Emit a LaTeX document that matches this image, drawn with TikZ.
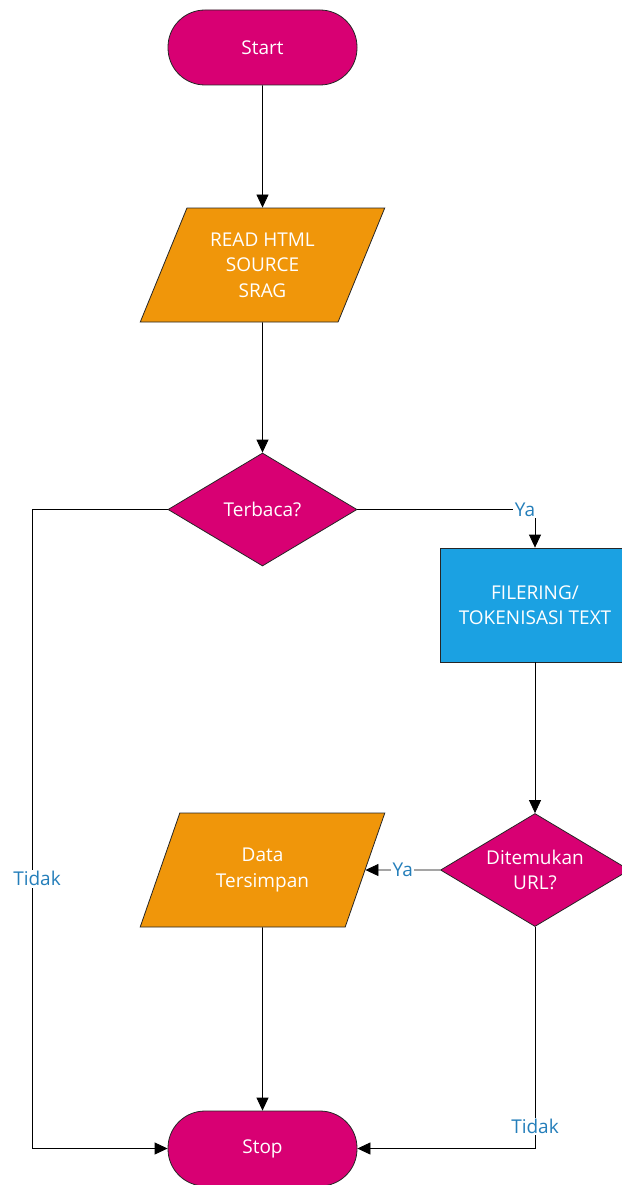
\documentclass[tikz,border=0pt]{standalone}
\usepackage{fontspec}
\setmainfont{Open Sans}
\usetikzlibrary{shapes.geometric,arrows.meta}
\definecolor{termc}{RGB}{216,0,115}
\definecolor{ioc}{RGB}{240,150,10}
\definecolor{procc}{RGB}{27,161,226}
\definecolor{labc}{RGB}{36,126,186}
\tikzset{
  base/.style={draw=black!85, line width=0.8pt, text=white, align=center,
    font=\fontsize{19}{25.5}\selectfont, inner sep=2pt},
  term/.style={base, fill=termc, rectangle, rounded corners=37pt,
    minimum width=189pt, minimum height=75pt},
  io/.style={base, fill=ioc, trapezium, trapezium left angle=64,
    trapezium right angle=116, trapezium stretches=true,
    minimum width=245pt, minimum height=114pt},
  decision/.style={base, fill=termc, diamond, aspect=1.67, inner sep=0pt,
    minimum width=189pt, minimum height=113pt},
  proc/.style={base, fill=procc, rectangle, minimum width=190pt,
    minimum height=114pt},
  conn/.style={draw=black, line width=0.8pt, -{Triangle[length=13pt,width=12pt]}},
  lab/.style={fill=white, text=labc, inner sep=1.5pt,
    font=\fontsize{19}{22}\selectfont}
}
\begin{document}
\begin{tikzpicture}[x=1pt,y=-1pt]
  \useasboundingbox (0,0) rectangle (621,1185);
  \node[term] (start) at (262.5,47.5) {Start};
  \node[io] (read) at (262.5,265) {READ HTML\\SOURCE\\SRAG};
  \node[decision] (baca) at (262.5,509.5) {Terbaca?};
  \node[proc] (token) at (535,605) {FILERING/\\TOKENISASI TEXT};
  \node[decision] (url) at (535,870) {Ditemukan\\URL?};
  \node[io] (simpan) at (262.5,870) {Data\\Tersimpan};
  \node[term] (stop) at (262.5,1148.5) {Stop};
  \coordinate (kiri) at (32,509.5);

  \draw[conn] (start) -- (read);
  \draw[conn] (read) -- (baca);
  \draw[conn] (baca.east) -| (token.north) node[lab, pos=0.472] {Ya};
  \draw[conn] (token) -- (url);
  \draw[conn] (url.west) -- (simpan.east) node[lab, pos=0.5] {Ya};
  \draw[conn] (simpan) -- (stop);
  \draw[conn] (baca.west) -- (kiri) |- (stop.west)
    node[lab, pos=0.289, xshift=5pt] {Tidak};
  \draw[conn] (url.south) |- (stop.east) node[lab, pos=0.45] {Tidak};
\end{tikzpicture}
\end{document}
